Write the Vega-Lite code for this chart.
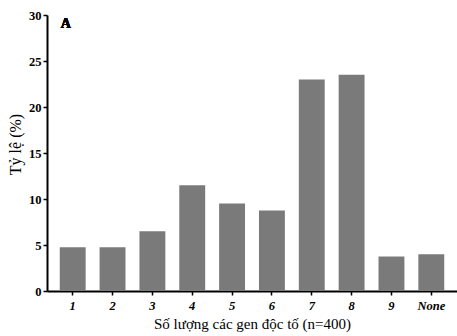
{
  "$schema": "https://vega.github.io/schema/vega-lite/v6.json",
  "width": 410,
  "height": 276,
  "autosize": "none",
  "padding": {"left": 47, "top": 15, "right": 0, "bottom": 45},
  "background": "white",
  "config": {
    "view": {"stroke": null},
    "font": "Liberation Serif",
    "axis": {
      "domainColor": "black",
      "domainWidth": 2,
      "tickColor": "black",
      "tickWidth": 1.5,
      "tickSize": 4,
      "grid": false,
      "labelColor": "black",
      "titleColor": "black",
      "labelFont": "Liberation Serif",
      "titleFont": "Liberation Serif",
      "titleFontWeight": "normal"
    }
  },
  "data": {
    "values": [
      {"genes": "1", "pct": 4.75},
      {"genes": "2", "pct": 4.75},
      {"genes": "3", "pct": 6.5},
      {"genes": "4", "pct": 11.5},
      {"genes": "5", "pct": 9.5},
      {"genes": "6", "pct": 8.75},
      {"genes": "7", "pct": 23.0},
      {"genes": "8", "pct": 23.5},
      {"genes": "9", "pct": 3.75},
      {"genes": "None", "pct": 4.0}
    ]
  },
  "layer": [
    {
      "mark": {"type": "bar", "fill": "#7a7a7a", "stroke": null},
      "encoding": {
        "x": {
          "field": "genes",
          "type": "nominal",
          "sort": null,
          "scale": {"paddingInner": 0.35, "paddingOuter": 0.32},
          "axis": {
            "title": "Số lượng các gen độc tố (n=400)",
            "titleFontSize": 15,
            "titlePadding": 5,
            "labelAngle": 0,
            "labelFontSize": 12.5,
            "labelFontWeight": "bold",
            "labelFontStyle": "italic",
            "labelPadding": 4
          }
        },
        "y": {
          "field": "pct",
          "type": "quantitative",
          "scale": {"domain": [0, 30]},
          "axis": {
            "title": "Tỷ lệ (%)",
            "titleFontSize": 16,
            "titleAngle": 270,
            "titleX": -27,
            "titleY": 129,
            "titleBaseline": "alphabetic",
            "values": [0, 5, 10, 15, 20, 25, 30],
            "labelFontSize": 12.5,
            "labelFontWeight": "bold",
            "labelPadding": 2
          }
        }
      }
    },
    {
      "mark": {"type": "text", "text": "A", "fontWeight": "bold", "fontSize": 14, "font": "Liberation Serif", "align": "center", "baseline": "middle", "dx": -7},
      "encoding": {
        "x": {"datum": "1", "type": "nominal"},
        "y": {"datum": 29, "type": "quantitative"}
      }
    }
  ]
}
